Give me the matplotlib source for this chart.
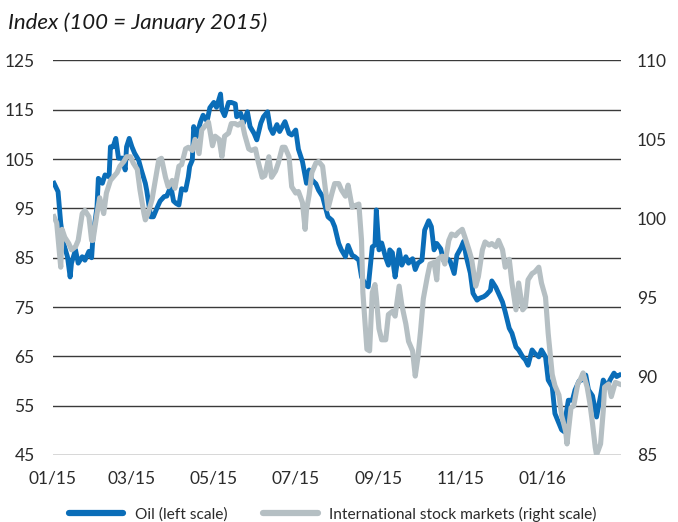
import numpy as np
import pandas as pd
import matplotlib
matplotlib.use('Agg')
import matplotlib.pyplot as plt
import matplotlib.dates as mdates
from matplotlib.lines import Line2D

plt.rcParams['font.family'] = ['Lato', 'DejaVu Sans']

# days since 1 Jan 2015 / index values
oil_days = [1, 3, 4, 6, 8, 11, 13, 14, 17, 19, 22, 24, 27, 29, 30, 33, 34, 37, 39, 42,
            43, 45, 47, 49, 52, 54, 55, 57, 59, 61, 64, 66, 69, 70, 73, 75, 78, 80, 83, 85,
            88, 90, 92, 94, 96, 99, 101, 102, 104, 105, 107, 110, 112, 115, 117, 120, 122, 125, 126, 128,
            131, 133, 136, 137, 140, 142, 145, 147, 150, 152, 155, 157, 160, 162, 164, 167, 169, 173, 176, 178,
            181, 183, 186, 188, 189, 191, 193, 196, 198, 201, 203, 205, 208, 210, 213, 215, 218, 220, 223, 225,
            228, 230, 233, 235, 238, 240, 241, 243, 245, 248, 250, 251, 253, 254, 255, 258, 260, 263, 265, 268,
            270, 272, 275, 277, 280, 282, 284, 286, 289, 291, 294, 296, 299, 301, 304, 306, 308, 310, 311, 313,
            316, 318, 321, 323, 326, 327, 330, 332, 335, 337, 340, 342, 345, 347, 350, 352, 354, 357, 359, 362,
            364, 367, 369, 372, 374, 377, 379, 381, 382, 384, 387, 389, 392, 394, 397, 399, 402, 404, 405, 408,
            410, 413, 415, 418, 420, 422]
oil = [100.1, 99.0, 98.4, 92.0, 88.0, 85.2, 81.1, 83.9, 86.6, 83.9, 85.2, 84.5, 86.3, 85.0, 89.3, 95.3, 101.1, 100.1, 101.8, 101.4,
       107.5, 107.5, 109.2, 105.2, 105.2, 102.8, 107.5, 109.2, 107.5, 106.2, 104.8, 102.8, 100.1, 98.7, 93.3, 93.3, 95.3, 96.5, 97.4, 97.5,
       99.5, 96.5, 96.0, 95.7, 99.0, 98.7, 101.4, 103.5, 104.8, 111.6, 109.5, 112.5, 113.9, 112.7, 115.4, 116.5, 115.5, 118.2, 115.0, 113.8,
       116.5, 116.5, 116.2, 113.6, 114.3, 112.3, 114.6, 111.6, 110.2, 108.9, 112.3, 113.6, 114.6, 111.3, 110.2, 112.0, 110.6, 112.6, 110.2, 109.9,
       110.9, 107.0, 104.5, 101.5, 100.1, 102.8, 100.8, 100.0, 98.7, 97.4, 95.3, 93.3, 92.6, 91.3, 87.9, 86.6, 85.2, 87.5, 85.5, 85.2,
       84.5, 81.1, 79.5, 79.1, 87.2, 87.6, 94.7, 86.6, 88.0, 85.0, 83.5, 86.6, 86.0, 83.0, 81.1, 86.6, 83.5, 85.2, 83.9, 84.8,
       82.6, 83.9, 84.5, 90.6, 92.5, 91.3, 86.6, 87.9, 86.8, 84.5, 84.8, 84.3, 81.8, 85.5, 87.0, 88.3, 85.2, 83.0, 81.9, 77.8,
       76.4, 76.8, 77.1, 77.5, 78.4, 80.3, 79.0, 77.8, 76.0, 74.0, 70.7, 69.7, 66.9, 66.3, 64.9, 64.3, 63.2, 66.3, 65.6, 64.9,
       66.3, 64.9, 60.2, 58.8, 53.4, 51.4, 50.1, 49.7, 52.7, 56.1, 56.1, 58.2, 60.0, 60.2, 61.2, 58.2, 57.0, 54.1, 52.7, 57.0,
       60.2, 58.8, 60.2, 61.6, 60.9, 61.2]

stock_days = [1, 3, 6, 7, 9, 12, 14, 17, 19, 22, 24, 27, 29, 30, 33, 35, 38, 40, 43, 45,
              48, 50, 53, 55, 58, 60, 63, 65, 68, 69, 71, 74, 76, 79, 81, 84, 86, 89, 91, 94,
              96, 99, 101, 104, 106, 109, 111, 114, 116, 119, 121, 124, 126, 128, 131, 133, 136, 138, 141, 143,
              146, 148, 151, 153, 156, 158, 161, 163, 166, 168, 171, 173, 176, 178, 181, 183, 186, 188, 189, 191,
              193, 196, 198, 201, 203, 205, 208, 210, 213, 215, 218, 220, 223, 225, 228, 230, 231, 234, 236, 238,
              240, 241, 243, 245, 248, 250, 253, 255, 258, 260, 263, 265, 268, 270, 272, 274, 276, 279, 281, 284,
              286, 287, 290, 292, 295, 297, 300, 302, 305, 307, 310, 312, 315, 317, 320, 322, 325, 327, 330, 332,
              335, 337, 340, 342, 345, 347, 350, 352, 354, 357, 359, 362, 364, 367, 369, 372, 374, 377, 379, 382,
              383, 386, 388, 391, 393, 395, 398, 400, 402, 404, 405, 408, 410, 411, 414, 416, 419, 422]
stock = [100.1, 99.7, 96.9, 99.3, 98.8, 98.4, 98.0, 98.2, 98.6, 100.3, 100.5, 100.1, 98.6, 98.6, 100.3, 101.3, 100.3, 101.6, 102.4, 102.6,
         102.9, 103.3, 103.6, 103.9, 103.9, 103.5, 103.1, 101.8, 100.3, 99.9, 100.3, 101.2, 102.2, 103.7, 103.8, 102.6, 102.0, 102.4, 101.9, 103.3,
         103.4, 104.4, 104.5, 104.3, 105.0, 104.1, 105.6, 105.9, 106.1, 104.6, 105.2, 105.0, 103.9, 105.2, 105.4, 106.0, 106.0, 105.9, 106.1, 105.3,
         104.4, 104.3, 104.4, 103.6, 102.6, 102.7, 103.9, 102.6, 103.0, 103.5, 104.5, 104.5, 103.9, 102.0, 101.6, 101.7, 101.0, 99.3, 100.5, 101.5,
         102.9, 103.5, 103.6, 103.3, 101.9, 100.6, 101.6, 102.2, 102.2, 101.8, 101.4, 102.1, 100.7, 100.8, 100.9, 98.6, 95.3, 91.7, 91.6, 95.3,
         95.8, 95.0, 93.0, 92.3, 92.3, 93.9, 94.1, 93.8, 95.7, 94.5, 93.3, 92.2, 91.6, 90.0, 91.2, 92.9, 94.9, 96.3, 97.1, 97.2,
         96.1, 97.4, 97.6, 97.1, 98.6, 99.0, 98.9, 99.1, 99.3, 98.8, 98.0, 97.4, 95.7, 96.3, 98.0, 98.5, 98.3, 98.4, 98.2, 98.6,
         98.0, 96.9, 97.4, 95.9, 94.2, 95.9, 94.2, 94.4, 96.1, 96.5, 96.6, 96.9, 95.9, 95.0, 92.7, 90.1, 89.4, 88.8, 87.5, 86.5,
         85.7, 88.0, 88.1, 89.5, 89.8, 90.2, 89.3, 88.3, 87.0, 85.5, 85.0, 85.7, 87.8, 89.3, 89.5, 88.7, 89.6, 89.5]

start = pd.Timestamp('2015-01-01')
oil_dates = start + pd.to_timedelta(oil_days, unit='D')
stock_dates = start + pd.to_timedelta(stock_days, unit='D')

BLUE = '#0a6db8'
GREY = '#b5bfc3'
TXT = '#2b2b2b'

fig = plt.figure(figsize=(6.78, 5.22), dpi=100)
ax = fig.add_axes([0.0777, 0.1284, 0.8378, 0.7557])
ax2 = ax.twinx()

ax.plot(oil_dates, oil, color=BLUE, lw=3.5, solid_joinstyle='round', zorder=3)
ax2.plot(stock_dates, stock, color=GREY, lw=3.7, solid_joinstyle='round', zorder=3)

ax.set_ylim(45, 125)
ax.set_yticks(np.arange(45, 126, 10))
ax2.set_ylim(85, 110)
ax2.set_yticks(np.arange(85, 111, 5))
ax.set_xlim(start, pd.Timestamp('2016-02-28'))

ax.xaxis.set_major_locator(mdates.MonthLocator(bymonth=[1, 3, 5, 7, 9, 11]))
ax.xaxis.set_major_formatter(mdates.DateFormatter('%m/%y'))

ax.grid(axis='y', color='#3a3a3a', lw=1.0)
ax.set_axisbelow(True)
for a in (ax, ax2):
    for s in a.spines.values():
        s.set_visible(False)
    a.tick_params(length=0, labelsize=12.5, colors=TXT)
ax.tick_params(axis='y', pad=13)
ax2.tick_params(axis='y', pad=11.5)
ax.tick_params(axis='x', pad=11)

fig.text(0.012, 0.957, 'Index (100 = January 2015)', fontsize=16, style='italic',
         color='#1a1a1a', va='center', ha='left')

handles = [Line2D([], [], color=BLUE, lw=4.5, solid_capstyle='round'),
           Line2D([], [], color=GREY, lw=4.5, solid_capstyle='round')]
fig.legend(handles, ['Oil (left scale)', 'International stock markets (right scale)'],
           loc='center', bbox_to_anchor=(0.491, 0.015), ncol=2, frameon=False,
           fontsize=11.2, handlelength=3.5, handletextpad=0.75, columnspacing=2.3,
           labelcolor=TXT)

fig.savefig('out.png', dpi=100)
